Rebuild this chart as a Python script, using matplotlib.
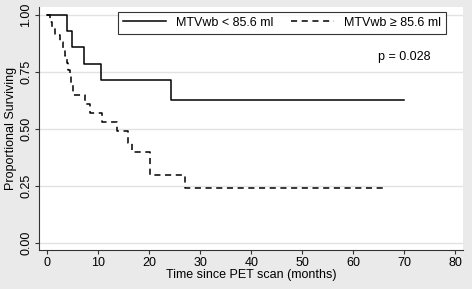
import matplotlib.pyplot as plt
import numpy as np

plt.rcParams['font.family'] = ['Liberation Sans', 'DejaVu Sans']

# Kaplan-Meier steps
low_t = [0, 3.8, 4.8, 7.1, 10.5, 24.3, 70]
low_s = [1.0, 0.929, 0.857, 0.786, 0.714, 0.625, 0.625]
high_t = [0, 0.5, 1.0, 1.5, 2.5, 3.0, 3.5, 3.8, 4.1, 4.4, 4.7, 5.0, 7.4, 8.4,
          10.7, 13.6, 15.9, 16.6, 20.1, 26.9, 66.5]
high_s = [1.0, 0.97, 0.94, 0.91, 0.88, 0.85, 0.82, 0.79, 0.76, 0.73, 0.70, 0.65,
          0.61, 0.57, 0.53, 0.49, 0.44, 0.40, 0.30, 0.24, 0.24]
labels = ['MTVwb < 85.6 ml', 'MTVwb \u2265 85.6 ml']
xticks = [0, 10, 20, 30, 40, 50, 60, 70, 80]
yticks = [0.0, 0.25, 0.5, 0.75, 1.0]

fs = 9
fig = plt.figure(figsize=(4.72, 2.89), dpi=100, facecolor='#eaeaea')
ax = fig.add_axes([0.083, 0.135, 0.898, 0.841])
ax.set_facecolor('white')

ax.step(low_t, low_s, where='post', color='black', lw=1.1, label=labels[0])
ax.step(high_t, high_s, where='post', color='black', lw=1.1,
        linestyle=(0, (4, 3)), label=labels[1])

ax.set_xlim(-1.6, 81.5)
ax.set_ylim(-0.03, 1.034)
ax.set_xticks(xticks)
ax.set_yticks(yticks)
ax.set_yticklabels(['%.2f' % v for v in yticks], rotation=90, va='center')
ax.tick_params(labelsize=fs, length=3, width=0.8, color='#333333', pad=2)
ax.grid(axis='y', color='#e2e2e2', lw=1)
ax.set_axisbelow(True)
for s in ['top', 'right']:
    ax.spines[s].set_visible(False)
for s in ['left', 'bottom']:
    ax.spines[s].set_color('#333333')
    ax.spines[s].set_linewidth(0.8)

ax.set_xlabel('Time since PET scan (months)', fontsize=fs, labelpad=0)
ax.set_ylabel('Proportional Surviving', fontsize=fs, labelpad=2)

leg = ax.legend(loc='upper left', bbox_to_anchor=(0.186, 0.98), ncol=2,
                fontsize=fs, frameon=True, fancybox=False, edgecolor='black',
                handlelength=3.45, columnspacing=1.4, borderpad=0.4,
                handletextpad=0.8, borderaxespad=0)
leg.get_frame().set_linewidth(0.8)

ax.text(0.924, 0.795, 'p = 0.028', transform=ax.transAxes, fontsize=fs,
        ha='right', va='center')

fig.savefig('out.png', dpi=100, facecolor=fig.get_facecolor())
